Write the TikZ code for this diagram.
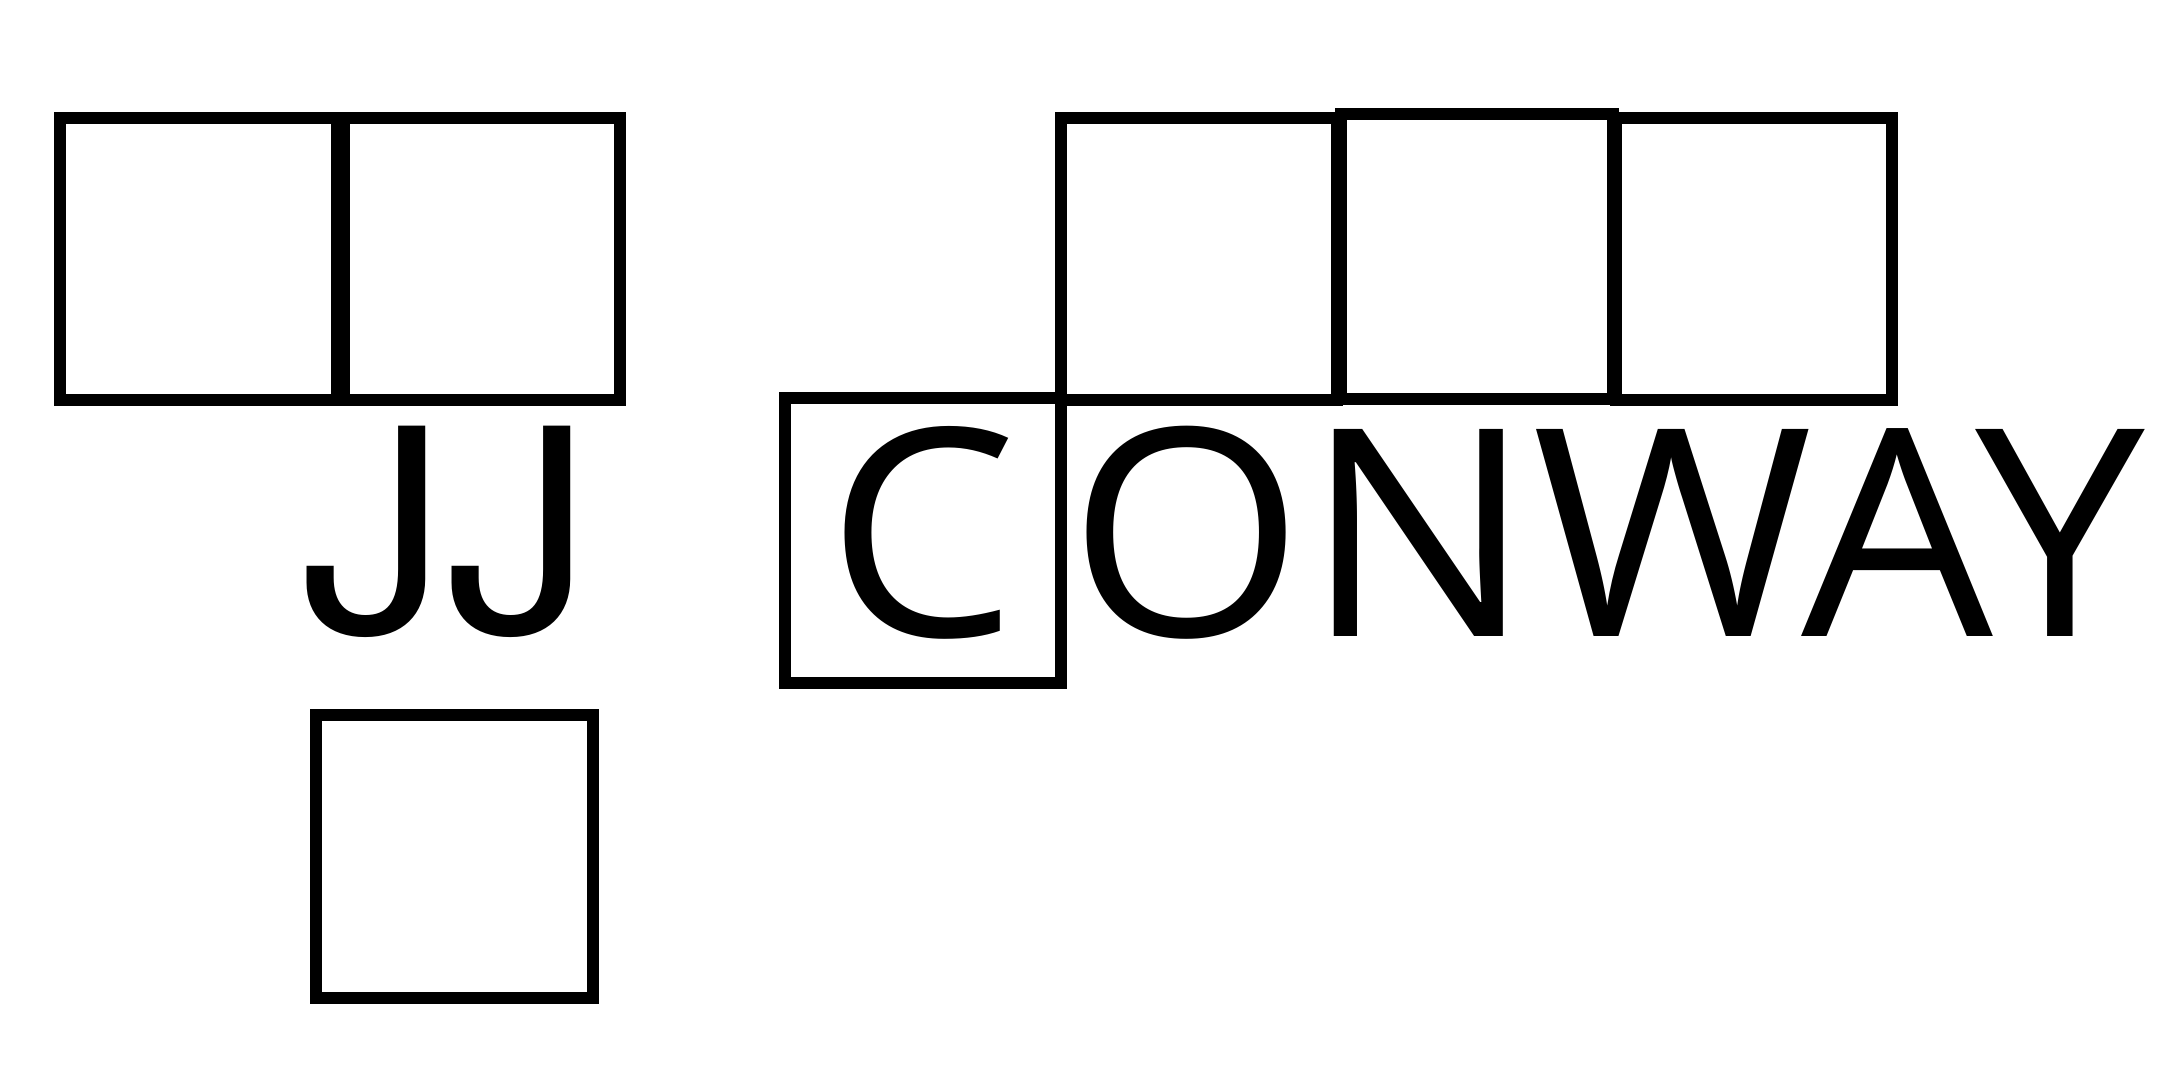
\documentclass[tikz,border=0pt]{standalone}
\usepackage{fontspec}
\setmainfont{Open Sans}
\newfontfamily\widesans[FakeStretch=1.045]{Open Sans}
\newfontfamily\jsans[FakeStretch=1.03]{TeX Gyre Heros}

\begin{document}
\begin{tikzpicture}[x=0.01cm,y=-0.01cm,line width=0.12cm]
	\useasboundingbox (0,0) rectangle (2175,1074);
	\tikzset{letters/.style={anchor=base west, inner sep=0pt, font=\fontsize{82.5}{90}\selectfont}};
	% left pair
	\draw (60,118) rectangle (337,400);
	\draw (344,118) rectangle (620,400);
	% right row of three
	\draw (1061,118) rectangle (1337,400);
	\draw (1341,114) rectangle (1613,399);
	\draw (1616,118) rectangle (1892,400);
	% box round the C, and the lone box
	\draw (785,398) rectangle (1061,683);
	\draw (316,715) rectangle (593,998);
	\node[letters, font=\fontsize{80.5}{90}\selectfont] (jj) at (295,633) {\jsans JJ};
	\node[letters] (c) at (820,637) {\widesans C};
	\node[letters] (onway) at (1062,637) {\widesans ONWAY};
\end{tikzpicture}
\end{document}
